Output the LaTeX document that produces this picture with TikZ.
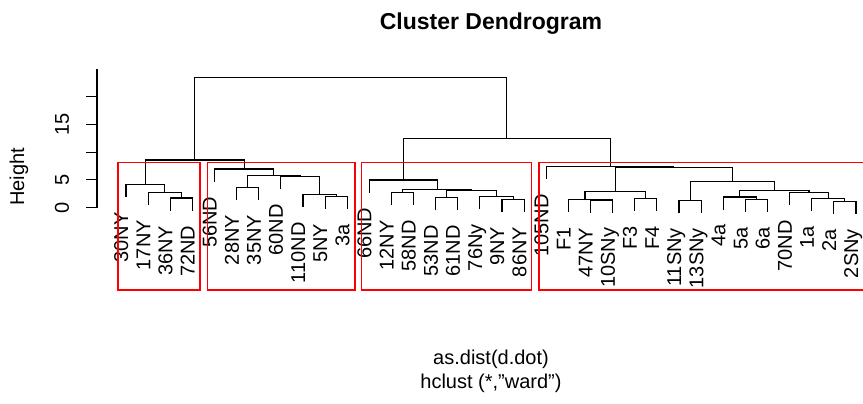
\documentclass[tikz,border=0pt]{standalone}
\usepackage{fontspec}
\setsansfont{Liberation Sans}
\usepackage{tikz}
\usetikzlibrary{positioning}

\newcommand\plotsize{\fontsize{20}{24}\selectfont}

\begin{document}
\begin{tikzpicture}[
  x=1pt, y=-1pt,
  font=\sffamily\plotsize,
  link/.style={draw=black, line width=1.1pt},
  leaflab/.style={rotate=90, anchor=mid east, inner sep=0pt},
  ticklab/.style={rotate=90, inner sep=0pt},
  cutbox/.style={draw=red, line width=1.2pt}
]
  \useasboundingbox (0,0) rectangle (863,404);

  % titles
  \node[anchor=base, font=\sffamily\bfseries\fontsize{23}{28}\selectfont] (title) at (491,29.5) {Cluster Dendrogram};
  \node[anchor=base] (xlab) at (491,364) {as.dist(d.dot)};
  \node[anchor=base] (sublab) at (491,388) {hclust (*,''ward'')};

  % height axis
  \draw[link] (97,207.7) -- (97,69.3);
  \foreach \v in {0,5,...,20}
    \draw[link] (97,{207.7-5.56*\v}) -- ++(-11,0);
  \foreach \v in {0,5,15}
    \node[ticklab] (tick\v) at (62,{207.7-5.56*\v}) {\v};
  \node[ticklab] (ylab) at (19,177) {Height};

  % leaves
  \foreach \t/\y [count=\i] in {30NY/197.2, 17NY/205, 36NY/210.5, 72ND/210.5,
      56ND/181.5, 28NY/199.8, 35NY/199.8, 60ND/189, 110ND/207.2, 5NY/208.8, 3a/208.8,
      66ND/192.5, 12NY/205.2, 58ND/205.2, 53ND/210.2, 61ND/210.2, 76Ny/209.2, 9NY/211.8, 86NY/211.8,
      105ND/179.2, F1/211.8, 47NY/212.5, 10SNy/212.5, F3/210.8, F4/210.8, 11SNy/213, 13SNy/213,
      4a/209.5, 5a/212, 6a/212, 70ND/205, 1a/211.2, 2a/214, 2SNy/214} {
    \coordinate (l\i) at ({126+(\i-1)*22.12},\y);
    \node[leaflab] (lab\i) at ([yshift=-15pt]l\i) {\t};
  }

  % first group
  \coordinate (g1c) at (181.3,198);
  \coordinate (g1b) at (164.7,192.5);
  \coordinate (g1) at (145.35,184.7);
  \draw[link] (l3) |- (g1c) -| (l4);
  \draw[link] (l2) |- (g1b) -| (g1c);
  \draw[link] (l1) |- (g1) -| (g1b);

  % second group
  \coordinate (g2d) at (336.15,196.3);
  \coordinate (g2c) at (319.6,194.7);
  \coordinate (g2b) at (300.2,176.5);
  \coordinate (g2p) at (247.65,187.3);
  \coordinate (g2a) at (273.9,175.5);
  \coordinate (g2) at (244.2,169);
  \draw[link] (l10) |- (g2d) -| (l11);
  \draw[link] (l9) |- (g2c) -| (g2d);
  \draw[link] (l8) |- (g2b) -| (g2c);
  \draw[link] (l6) |- (g2p) -| (l7);
  \draw[link] (g2p) |- (g2a) -| (g2b);
  \draw[link] (l5) |- (g2) -| (g2a);

  % third group
  \coordinate (p986) at (513.1,199.3);
  \coordinate (p76) at (496.5,196.7);
  \coordinate (p5361) at (446.75,197.7);
  \coordinate (p53) at (471.6,190.7);
  \coordinate (p1258) at (402.5,192.7);
  \coordinate (p12) at (437.05,189.3);
  \coordinate (g3) at (403.2,180);
  \draw[link] (l18) |- (p986) -| (l19);
  \draw[link] (l17) |- (p76) -| (p986);
  \draw[link] (l15) |- (p5361) -| (l16);
  \draw[link] (p5361) |- (p53) -| (p76);
  \draw[link] (l13) |- (p1258) -| (l14);
  \draw[link] (p1258) |- (p12) -| (p53);
  \draw[link] (l12) |- (g3) -| (p12);

  % fourth group
  \coordinate (q4710) at (601.55,200);
  \coordinate (qF1) at (585,199.3);
  \coordinate (qF34) at (645.85,198.3);
  \coordinate (qK) at (615.4,191.7);
  \coordinate (q1113) at (690.05,200.5);
  \coordinate (q56) at (756.45,199.5);
  \coordinate (qN) at (739.8,197);
  \coordinate (q2) at (844.9,201.5);
  \coordinate (qP) at (828.3,198.7);
  \coordinate (qO) at (808.95,192.5);
  \coordinate (qM) at (774.4,190.7);
  \coordinate (qL) at (732.2,181.5);
  \coordinate (qJ) at (673.8,167.7);
  \coordinate (g4) at (610.05,166.7);
  \draw[link] (l22) |- (q4710) -| (l23);
  \draw[link] (l21) |- (qF1) -| (q4710);
  \draw[link] (l24) |- (qF34) -| (l25);
  \draw[link] (qF1) |- (qK) -| (qF34);
  \draw[link] (l26) |- (q1113) -| (l27);
  \draw[link] (l29) |- (q56) -| (l30);
  \draw[link] (l28) |- (qN) -| (q56);
  \draw[link] (l33) |- (q2) -| (l34);
  \draw[link] (l32) |- (qP) -| (q2);
  \draw[link] (l31) |- (qO) -| (qP);
  \draw[link] (qN) |- (qM) -| (qO);
  \draw[link] (q1113) |- (qL) -| (qM);
  \draw[link] (qK) |- (qJ) -| (qL);
  \draw[link] (l20) |- (g4) -| (qJ);

  % upper joins
  \coordinate (left) at (194.8,160);
  \coordinate (right) at (506.6,138.3);
  \coordinate (root) at (350.7,77.3);
  \draw[link] (g1) |- (left) -| (g2);
  \draw[link] (g3) |- (right) -| (g4);
  \draw[link] (left) |- (root) -| (right);

  % cut boxes
  \draw[cutbox] (118,162.7) rectangle (200,290);
  \draw[cutbox] (207.3,162.7) rectangle (355,290);
  \draw[cutbox] (361.7,162.7) rectangle (531.7,290);
  \draw[cutbox] (866,162.7) -| (539,290) -- (866,290);
\end{tikzpicture}
\end{document}
